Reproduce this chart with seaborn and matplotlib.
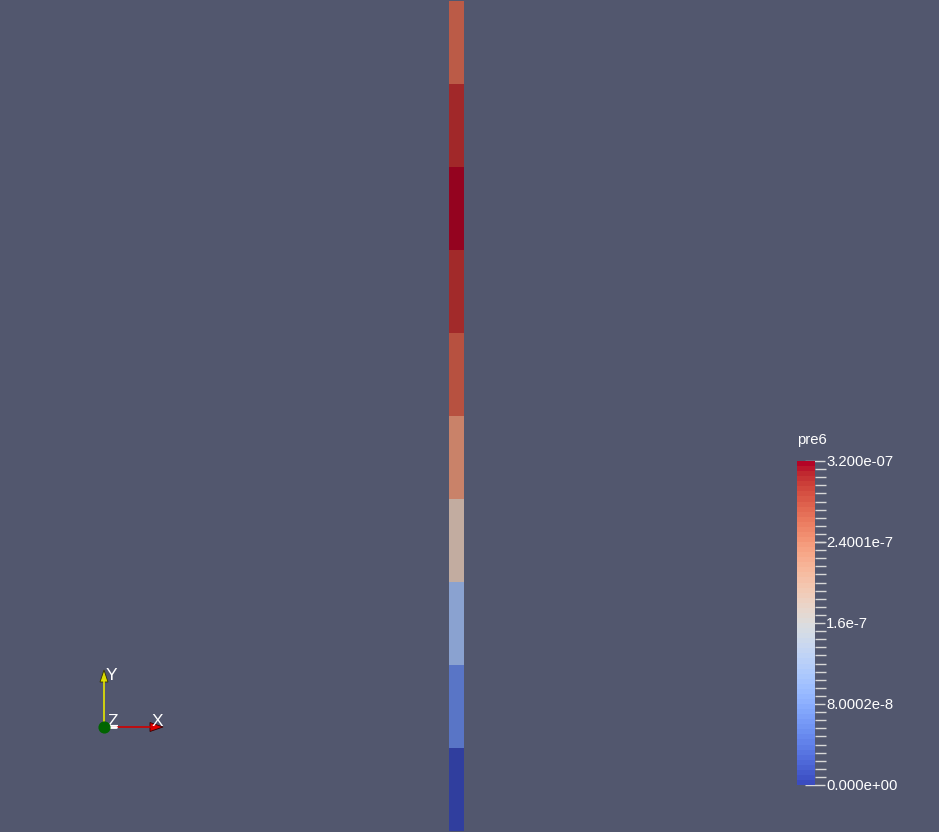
import numpy as np
import matplotlib
matplotlib.use("Agg")
import matplotlib.pyplot as plt
import seaborn as sns
from matplotlib.colors import ListedColormap, Normalize
from matplotlib.cm import ScalarMappable
from matplotlib.ticker import FixedLocator, MultipleLocator

# cell values of pre6 along the column, top to bottom
cells = ["c1", "c2", "c3", "c4", "c5", "c6", "c7", "c8", "c9", "c10"]
pre6 = [2.70e-7, 3.05e-7, 3.20e-7, 3.04e-7, 2.78e-7, 2.35e-7, 1.82e-7, 1.05e-7, 0.50e-7, 0.0]
tick_values = [0.0, 8.0002e-8, 1.6e-7, 2.4001e-7, 3.2e-7]
tick_labels = ["0.000e+00", "8.0002e-8", "1.6e-7", "2.4001e-7", "3.200e-07"]
vmin, vmax = 0.0, 3.2e-7

bg = "#52576e"
sns.set_style("white")
plt.rcParams["font.family"] = ["Liberation Sans", "DejaVu Sans"]

W, H = 939, 832
fig = plt.figure(figsize=(W / 100, H / 100), dpi=100, facecolor=bg)

def fig_rect(x0, y0, x1, y1):
    return [x0 / W, 1 - y1 / H, (x1 - x0) / W, (y1 - y0) / H]

# lit surface looks a bit darker than the lookup table
base = plt.get_cmap("coolwarm")
shade = base(np.linspace(0, 1, 256))
shade[:, :3] *= 0.82
shaded = ListedColormap(shade)

ax = fig.add_axes(fig_rect(449, 1, 464, 831))
data = np.array(pre6).reshape(-1, 1)
sns.heatmap(data, ax=ax, cmap=shaded, vmin=vmin, vmax=vmax, cbar=False,
            xticklabels=False, yticklabels=False)
ax.set_axis_off()

# colour legend
cax = fig.add_axes(fig_rect(797, 461, 815, 785))
lut = ListedColormap(base(np.linspace(0, 1, 64)))
sm = ScalarMappable(norm=Normalize(vmin, vmax), cmap=lut)
cb = fig.colorbar(sm, cax=cax)
cb.outline.set_visible(False)
cax.yaxis.set_major_locator(FixedLocator(tick_values))
cax.set_yticklabels(tick_labels)
cax.yaxis.set_minor_locator(MultipleLocator(8e-9))
cax.tick_params(which="major", axis="y", direction="inout", length=14, width=1,
                color="#d8d8d8", labelcolor="white", labelsize=10.7, pad=1)
cax.tick_params(which="minor", axis="y", direction="out", length=8, width=1,
                color="#d8d8d8")
fig.text(797 / W, 1 - 440 / H, "pre6", color="white", fontsize=10.7,
         ha="left", va="center")

# orientation triad
tri = fig.add_axes([0, 0, 1, 1])
tri.set_xlim(0, W)
tri.set_ylim(H, 0)
tri.set_axis_off()
tri.patch.set_alpha(0)
ox, oy = 104, 727
tri.plot([ox, ox], [oy, 680], color="#e6e600", lw=1.2)
tri.plot([ox, 152], [oy, oy], color="#d00000", lw=1.2)
tri.plot([ox, 116], [oy, oy], color="white", lw=2)
tri.add_patch(plt.Polygon([[100, 682], [108, 682], [104, 670]], closed=True,
                          facecolor="#dddd00", edgecolor="#333300", lw=0.6))
tri.add_patch(plt.Polygon([[150, 722.5], [150, 731.5], [163, 727]], closed=True,
                          facecolor="#e00000", edgecolor="#330000", lw=0.6))
tri.scatter([ox], [oy], s=60, color="#006400", zorder=5)
tri.text(106, 676, "Y", color="white", fontsize=12.5, va="center", ha="left")
tri.text(152, 722, "X", color="white", fontsize=12.5, va="center", ha="left")
tri.text(107, 721, "Z", color="white", fontsize=12.5, va="center", ha="left")

fig.savefig("out.png", dpi=100, facecolor=bg)
